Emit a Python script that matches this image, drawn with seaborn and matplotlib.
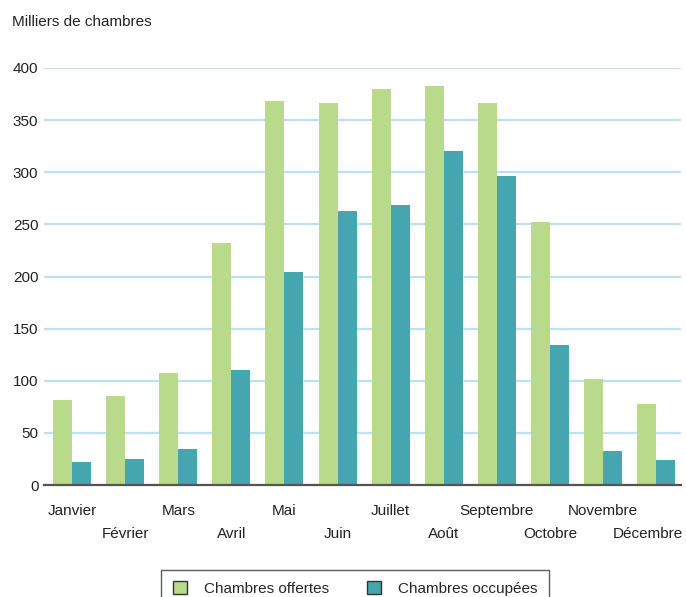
import pandas as pd
import matplotlib.pyplot as plt
import matplotlib.transforms as mtransforms
import seaborn as sns

# Monthly hotel rooms (thousands)
mois = ['Janvier', 'Février', 'Mars', 'Avril', 'Mai', 'Juin', 'Juillet',
        'Août', 'Septembre', 'Octobre', 'Novembre', 'Décembre']
offertes = [82, 85, 107, 232, 368, 366, 380, 383, 366, 252, 102, 78]
occupees = [22, 25, 35, 110, 204, 263, 269, 320, 296, 134, 33, 24]
series = ['Chambres offertes', 'Chambres occupées']
couleurs = ['#b9da8a', '#45a6b0']
yticks = [0, 50, 100, 150, 200, 250, 300, 350, 400]

df = pd.DataFrame({
    'mois': mois * 2,
    'valeur': offertes + occupees,
    'serie': [series[0]] * len(mois) + [series[1]] * len(mois),
})

sns.set_style('white')
plt.rcParams['font.family'] = ['Liberation Sans', 'DejaVu Sans']

fig = plt.figure(figsize=(6.86, 5.97), dpi=100)
ax = fig.add_axes([0.0641, 0.1876, 0.9286, 0.6985])

sns.barplot(data=df, x='mois', y='valeur', hue='serie', order=mois,
            hue_order=series, palette=couleurs, saturation=1,
            width=0.716, linewidth=0, edgecolor='none', ax=ax, legend=True)

ax.set_xlim(-0.53, 11.47)
ax.set_ylim(0, 400)
ax.set_yticks(yticks)
ax.set_xlabel('')
ax.set_ylabel('')

# Grid and spines
ax.set_axisbelow(True)
ax.yaxis.grid(True, color='#bde0f4', linewidth=1.6)
ax.xaxis.grid(False)
for side in ['left', 'right', 'top']:
    ax.spines[side].set_visible(False)
ax.spines['bottom'].set_color('#555555')
ax.spines['bottom'].set_linewidth(1.6)

ax.set_xticks(range(len(mois)))
ax.set_xticklabels(mois, fontsize=11, color='#222222')
ax.tick_params(axis='x', length=0, pad=13.5)
ax.tick_params(axis='y', length=0, pad=4, labelsize=11, labelcolor='#222222')

# Alternate month labels on two rows (every second one shifted down),
# last label pushed a bit left so it stays inside the figure
for i, lbl in enumerate(ax.get_xticklabels()):
    dx = -8 / 100 if i == len(mois) - 1 else 0
    dy = -23 / 100 if i % 2 == 1 else 0
    if dx or dy:
        lbl.set_transform(lbl.get_transform() +
                          mtransforms.ScaledTranslation(dx, dy, fig.dpi_scale_trans))

fig.text(0.0175, 0.963, 'Milliers de chambres', fontsize=11, color='#222222',
         ha='left', va='center')

# Legend at the bottom
handles, lbls = ax.get_legend_handles_labels()
ax.get_legend().remove()
leg = fig.legend(handles, lbls, loc='upper center', bbox_to_anchor=(0.5175, 0.0452),
                 ncol=2, frameon=True, fancybox=False, fontsize=11,
                 handlelength=0.92, handleheight=0.92, handletextpad=1.1,
                 columnspacing=2.5, borderpad=0.75, borderaxespad=0)
leg.get_frame().set_edgecolor('#333333')
leg.get_frame().set_linewidth(1.0)
for h in leg.legend_handles:
    h.set_edgecolor('#333333')
    h.set_linewidth(1.0)

fig.savefig('out.png', dpi=100)
